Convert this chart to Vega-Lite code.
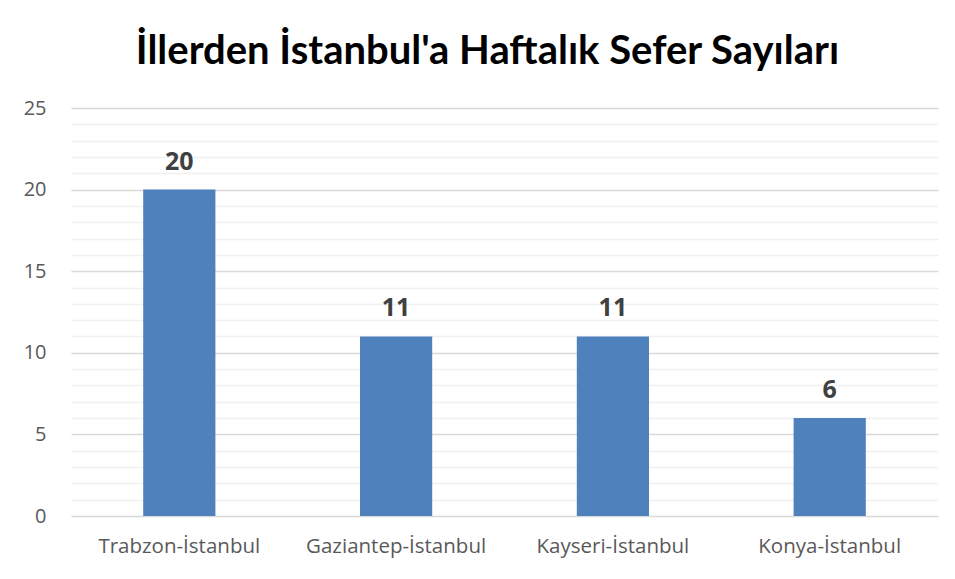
{
  "$schema": "https://vega.github.io/schema/vega-lite/v6.json",
  "width": 867,
  "height": 408,
  "autosize": {"type": "none"},
  "padding": {"left": 71, "top": 108, "right": 17, "bottom": 63},
  "background": "white",
  "config": {"view": {"stroke": null}, "font": "Lato"},
  "title": {
    "text": "İllerden İstanbul'a Haftalık Sefer Sayıları",
    "font": "Lato",
    "fontSize": 40,
    "fontWeight": "bold",
    "color": "#000000",
    "anchor": "middle",
    "dx": -17,
    "offset": 26
  },
  "data": {
    "values": [
      {"route": "Trabzon-İstanbul", "count": 20},
      {"route": "Gaziantep-İstanbul", "count": 11},
      {"route": "Kayseri-İstanbul", "count": 11},
      {"route": "Konya-İstanbul", "count": 6}
    ]
  },
  "encoding": {
    "x": {
      "field": "route",
      "type": "nominal",
      "sort": null,
      "scale": {"paddingInner": 0.667, "paddingOuter": 0.333},
      "axis": {
        "title": null,
        "labelAngle": 0,
        "labelFont": "Open Sans",
        "labelFontSize": 20.5,
        "labelColor": "#595959",
        "labelPadding": 20,
        "labelLimit": 0,
        "ticks": false,
        "domain": false,
        "grid": false
      }
    },
    "y": {
      "field": "count",
      "type": "quantitative",
      "scale": {"domain": [0, 25], "nice": false},
      "axis": {
        "title": null,
        "values": [0,1,2,3,4,5,6,7,8,9,10,11,12,13,14,15,16,17,18,19,20,21,22,23,24,25],
        "labelExpr": "datum.value % 5 === 0 ? datum.label : ''",
        "labelFont": "Open Sans",
        "labelFontSize": 20,
        "labelColor": "#595959",
        "labelPadding": 25,
        "ticks": false,
        "domain": false,
        "grid": true,
        "gridColor": {"condition": {"test": "datum.value % 5 === 0", "value": "#d9d9d9"}, "value": "#f0f0f0"},
        "gridWidth": {"condition": {"test": "datum.value % 5 === 0", "value": 1.5}, "value": 1.3}
      }
    }
  },
  "layer": [
    {"mark": {"type": "bar", "color": "#4f81bd"}},
    {
      "mark": {"type": "text", "dy": -28, "font": "Open Sans", "fontWeight": "bold", "fontSize": 25, "color": "#404040"},
      "encoding": {"text": {"field": "count", "type": "quantitative"}}
    }
  ]
}
